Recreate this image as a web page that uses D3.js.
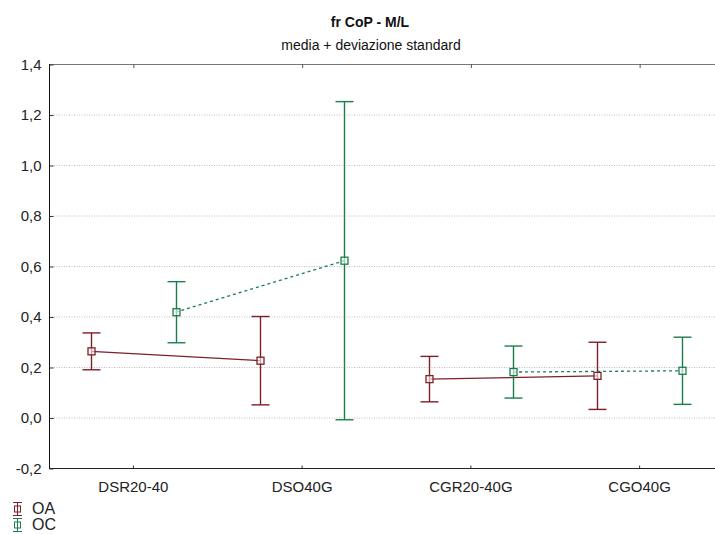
<!DOCTYPE html>
<html><head><meta charset="utf-8">
<script src="https://cdn.jsdelivr.net/npm/d3@7"></script>
<style>body{margin:0;background:#fff}svg{display:block;font-family:"Liberation Sans",Arial,sans-serif}</style>
</head><body>
<svg id="c" width="715" height="534"></svg>
<script>
const categories = ["DSR20-40","DSO40G","CGR20-40G","CGO40G"];
const seriesNames = ["OA","OC"];
const oaMean = [0.262, 0.225, 0.152, 0.165];
const oaSd   = [0.073, 0.175, 0.090, 0.133];
const ocMean = [0.417, 0.621, 0.180, 0.185];
const ocSd   = [0.121, 0.630, 0.103, 0.133];
const yTicks = [-0.2,0,0.2,0.4,0.6,0.8,1.0,1.2,1.4];
const colors = {OA:"#7d1f26", OC:"#1c7d4c"};

const svg = d3.select("#c");
const L=49, R=724, T=64, B=468;
const x = d3.scaleBand().domain(categories).range([L,R]);
const off = d3.scalePoint().domain(seriesNames).range([-x.bandwidth()/4, x.bandwidth()/4]);
const y = d3.scaleLinear().domain([-0.2,1.4]).range([B,T]);

// grid
svg.append("g").selectAll("line").data(yTicks.filter(v=>v>-0.2&&v<1.4)).join("line")
  .attr("x1",L).attr("x2",715).attr("y1",d=>y(d)+0.5).attr("y2",d=>y(d)+0.5)
  .attr("stroke","#bdbdbd").attr("stroke-width",1).attr("stroke-dasharray","1,1.5");

// frame
svg.append("line").attr("x1",L).attr("x2",715).attr("y1",T+0.5).attr("y2",T+0.5).attr("stroke","#777");
svg.append("line").attr("x1",L).attr("x2",715).attr("y1",B+0.5).attr("y2",B+0.5).attr("stroke","#222");
svg.append("line").attr("x1",L+0.5).attr("x2",L+0.5).attr("y1",T).attr("y2",B+1).attr("stroke","#111");

// y axis
const ya = svg.append("g").attr("transform",`translate(${L+0.5},0.5)`)
  .call(d3.axisLeft(y).tickValues(yTicks).tickSize(-4).tickPadding(8).tickFormat(d=>d3.format(".1f")(d).replace(".",",").replace("−","-")));
ya.select(".domain").remove();
ya.selectAll("line").attr("stroke","#333");
ya.selectAll("text").attr("font-size","15px").attr("fill","#222").attr("font-family","Liberation Sans, Arial, sans-serif");

// x axis bottom
const xa = svg.append("g").attr("transform",`translate(0,${B+0.5})`)
  .call(d3.axisBottom(x).tickSize(-3).tickPadding(13));
xa.select(".domain").remove();
xa.selectAll("line").attr("stroke","#333");
xa.selectAll("text").attr("font-size","15px").attr("fill","#222").attr("font-family","Liberation Sans, Arial, sans-serif");
// top ticks
svg.append("g").selectAll("line").data(categories).join("line")
  .attr("x1",d=>x(d)+x.bandwidth()/2+0.5).attr("x2",d=>x(d)+x.bandwidth()/2+0.5)
  .attr("y1",T).attr("y2",T+4).attr("stroke","#555");

// titles
svg.append("text").attr("x",370).attr("y",27).attr("text-anchor","middle")
  .attr("font-size","14px").attr("font-weight","bold").attr("fill","#111").text("fr CoP - M/L");
svg.append("text").attr("x",371).attr("y",50).attr("text-anchor","middle")
  .attr("font-size","14px").attr("fill","#111").text("media + deviazione standard");

const series = [
  {name:"OA", mean:oaMean, sd:oaSd, dash:null},
  {name:"OC", mean:ocMean, sd:ocSd, dash:"3,3"}
];
const cx = (s,i)=>x(categories[i])+x.bandwidth()/2+off(s.name);

series.forEach(s=>{
  const g = svg.append("g");
  const col = colors[s.name];
  [[0,1],[2,3]].forEach(([a,b])=>{
    g.append("line").attr("x1",cx(s,a)).attr("y1",y(s.mean[a]))
      .attr("x2",cx(s,b)).attr("y2",y(s.mean[b]))
      .attr("stroke",col).attr("stroke-width",1.3).attr("stroke-dasharray",s.dash);
  });
  s.mean.forEach((m,i)=>{
    const X = Math.round(cx(s,i))+0.5;
    const top=y(m+s.sd[i]), bot=y(m-s.sd[i]);
    g.append("line").attr("x1",X).attr("x2",X).attr("y1",top).attr("y2",bot).attr("stroke",col).attr("stroke-width",1.4);
    g.append("line").attr("x1",X-9).attr("x2",X+9).attr("y1",top).attr("y2",top).attr("stroke",col).attr("stroke-width",1.4);
    g.append("line").attr("x1",X-9).attr("x2",X+9).attr("y1",bot).attr("y2",bot).attr("stroke",col).attr("stroke-width",1.4);
    g.append("rect").attr("x",X-3.5).attr("y",y(m)-3.5).attr("width",7).attr("height",7)
      .attr("fill","#fff").attr("fill-opacity",0.6).attr("stroke",col).attr("stroke-width",1.3);
  });
});

// legend
seriesNames.forEach((n,i)=>{
  const cy = 509 + i*16;
  const col = colors[n];
  const g = svg.append("g");
  g.append("line").attr("x1",17.5).attr("x2",17.5).attr("y1",cy-6).attr("y2",cy+6).attr("stroke",col);
  g.append("line").attr("x1",13).attr("x2",22).attr("y1",cy-6.5).attr("y2",cy-6.5).attr("stroke",col);
  g.append("line").attr("x1",13).attr("x2",22).attr("y1",cy+6.5).attr("y2",cy+6.5).attr("stroke",col);
  g.append("rect").attr("x",14.5).attr("y",cy-3).attr("width",6).attr("height",6).attr("fill","none").attr("stroke",col);
  g.append("text").attr("x",32).attr("y",cy+5).attr("font-size","16px").attr("fill","#222").text(n);
});
</script>
</body></html>
